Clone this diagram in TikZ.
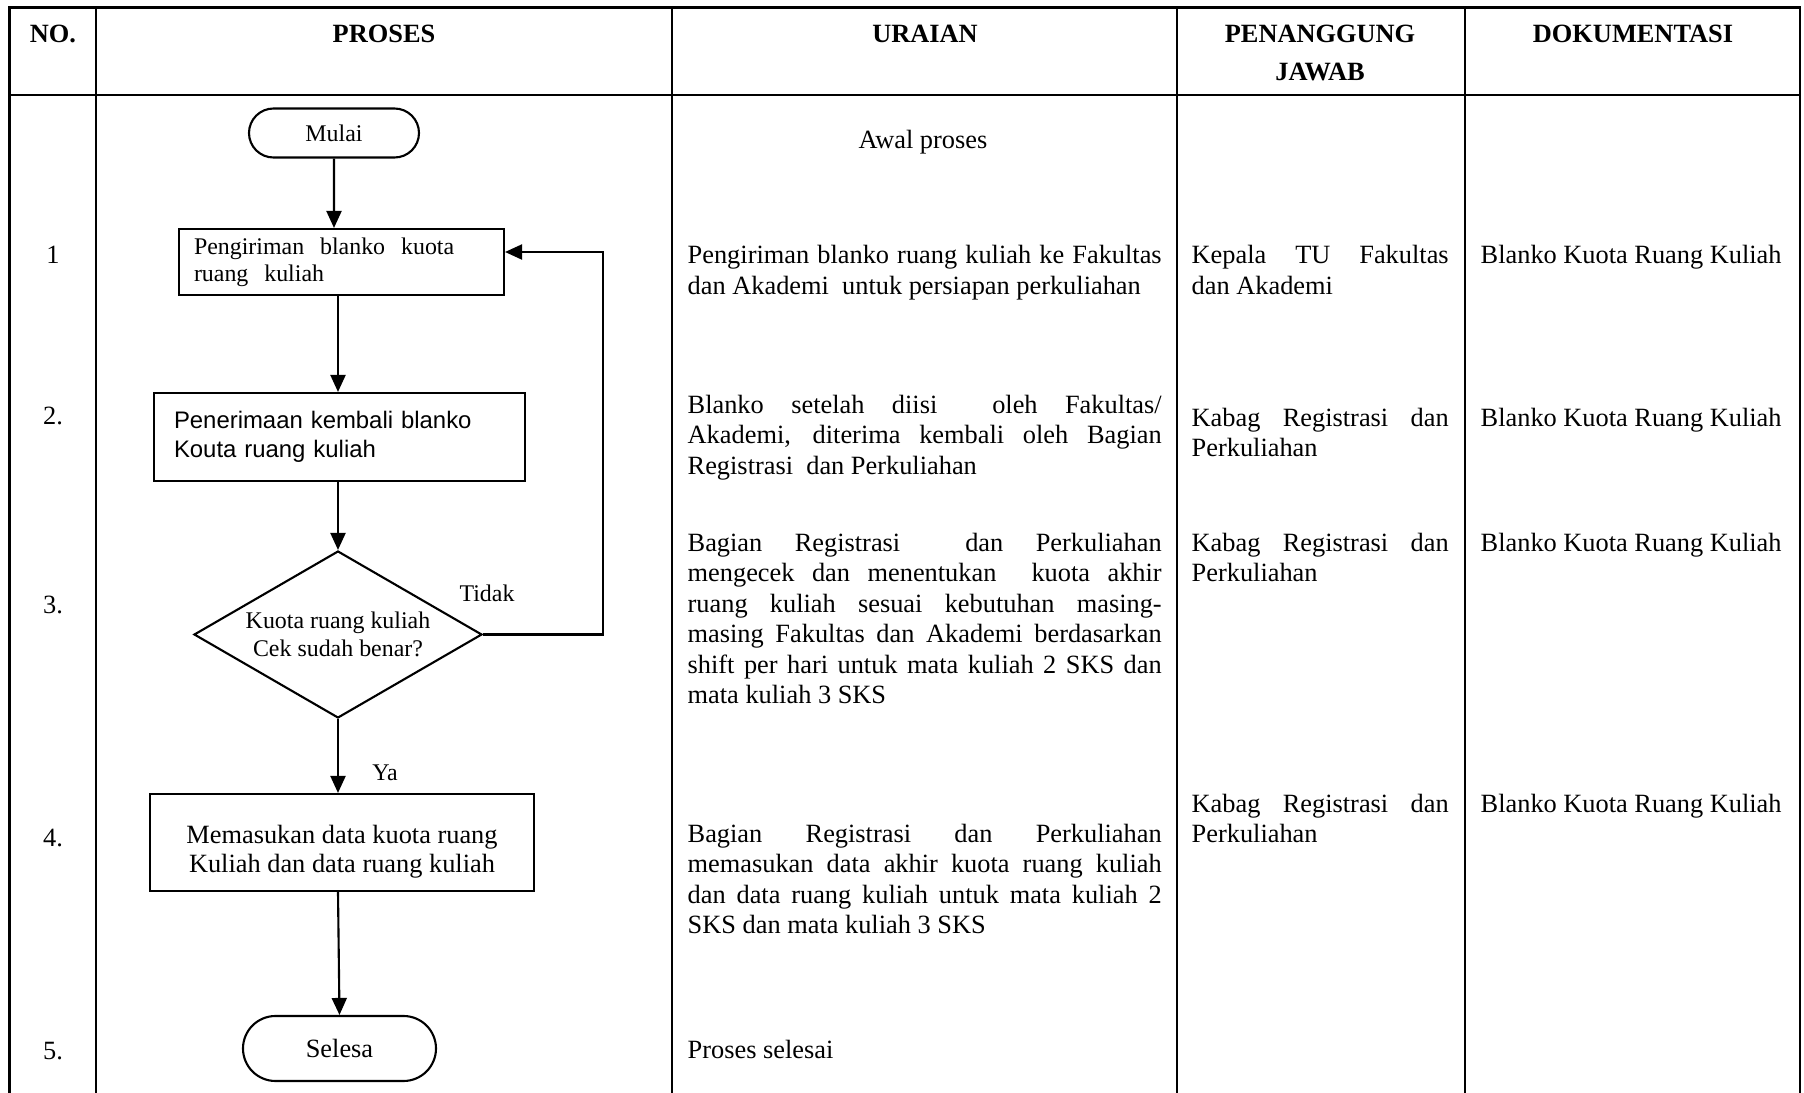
\documentclass[tikz,border=0pt]{standalone}
\usepackage{fontspec}
\setmainfont{Liberation Serif}
\newfontfamily\arialfont{Liberation Sans}
\usepackage{tikz}
\usetikzlibrary{shapes.geometric, shapes.misc, arrows.meta}
\hyphenpenalty=10000
\exhyphenpenalty=10000
\newcommand{\txtfont}{\fontsize{7.5}{8.7}\selectfont}
\newcommand{\flowfont}{\fontsize{6.8}{7.7}\selectfont}
\tikzset{
  tbl/.style={line width=0.65pt, draw=black},
  blk/.style={rectangle, draw=black, line width=0.6pt, inner sep=0pt},
  proc/.style={blk, align=left, font=\flowfont},
  term/.style={rounded rectangle, draw=black, line width=0.6pt, inner sep=0pt, font=\flowfont},
  dec/.style={diamond, aspect=1.72, draw=black, line width=0.6pt, inner sep=0pt, align=center, font=\fontsize{6.8}{8}\selectfont},
  hdr/.style={font=\txtfont\bfseries, inner sep=0pt, anchor=base},
  num/.style={font=\txtfont, inner sep=0pt, anchor=base},
  cell/.style={font=\txtfont, inner sep=0pt, anchor=base west, align=justify},
  lab/.style={font=\flowfont, inner sep=0pt},
  arr/.style={-{Triangle[length=1.7mm, width=1.5mm]}, line width=0.6pt, draw=black},
}

\begin{document}
\begin{tikzpicture}[x=0.1mm, y=-0.1mm]
  \useasboundingbox (0,0) rectangle (1804,1093);
  \draw[tbl] (9.5,1093) |- (1800,7.5) -- (1800,1093);
  \draw[tbl] (9.5,95) -- (1800,95);
  \foreach \cx in {96,672,1177,1465}
    \draw[tbl] (\cx,7.5) -- (\cx,1093);
  \node[hdr] (hno) at (53,42) {NO.};
  \node[hdr] (hproses) at (384,42) {PROSES};
  \node[hdr] (huraian) at (925,42) {URAIAN};
  \node[hdr] (hpj) at (1320,42) {PENANGGUNG};
  \node[hdr] (hjawab) at (1320,81) {JAWAB};
  \node[hdr] (hdok) at (1633,42) {DOKUMENTASI};
  \node[num] (no1) at (53,263) {1};
  \node[num] (no2) at (53,424) {2.};
  \node[num] (no3) at (53,613) {3.};
  \node[num] (no4) at (53,846) {4.};
  \node[num] (no5) at (53,1059) {5.};
  \node[term, minimum width=17mm, minimum height=4.9mm] (mulai) at (334,133) {Mulai};
  \node[proc, text width=29.5mm, minimum width=32.5mm, minimum height=6.6mm] (kirim) at (341.5,262) {Pengiriman~ blanko~ kuota\\ruang~ kuliah};
  \node[proc, font=\arialfont\fontsize{6.8}{8.2}\selectfont, text width=33.1mm, minimum width=37.1mm, minimum height=8.8mm] (terima) at (339.5,437) {Penerimaan kembali blanko\\Kouta ruang kuliah};
  \node[dec, minimum width=28.8mm, minimum height=16.7mm] (cek) at (338,634.5) {Kuota ruang kuliah\\Cek sudah benar?};
  \node[blk, align=center, font=\fontsize{7.5}{8.2}\selectfont, minimum width=38.4mm, minimum height=9.7mm] (masuk) at (342,842.5) {\rule{0pt}{3.7mm}Memasukan data kuota ruang\\Kuliah dan data ruang kuliah};
  \node[term, font=\txtfont, minimum width=19.3mm, minimum height=6.5mm] (selesa) at (339.5,1048.5) {Selesa};
  \coordinate (balik) at (603,252);
  \draw[arr] (mulai) -- (mulai |- kirim.north);
  \draw[arr] (kirim.south -| cek) -- (cek |- terima.north);
  \draw[arr] (terima.south -| cek) -- (cek.north);
  \draw[arr] (cek.south) -- (cek.south |- masuk.north);
  \draw[arr] (masuk.south -| cek) -- (selesa.north);
  \draw[arr] (cek.east) -| (balik) -- (kirim.east |- balik);
  \node[lab] (tidak) at (487,593) {Tidak};
  \node[lab] (ya) at (385,773) {Ya};
  \node[num] (awal) at (923,149) {Awal proses};
  \node[cell, text width=47.4mm] (ur1) at (687,264) {Pengiriman blanko ruang kuliah ke Fakultas\linebreak dan Akademi~ untuk persiapan perkuliahan};
  \node[cell, text width=47.4mm] (ur2) at (687,413) {Blanko setelah diisi~ oleh Fakultas/\linebreak Akademi, diterima kembali oleh Bagian\linebreak Registrasi~ dan Perkuliahan};
  \node[cell, text width=47.4mm] (ur3) at (687,551) {Bagian Registrasi~ dan Perkuliahan\linebreak mengecek dan menentukan~ kuota akhir\linebreak ruang kuliah sesuai kebutuhan masing-\linebreak masing Fakultas dan Akademi berdasarkan\linebreak shift per hari untuk mata kuliah 2 SKS dan\linebreak mata kuliah 3 SKS};
  \node[cell, text width=47.4mm] (ur4) at (687,842) {Bagian Registrasi dan Perkuliahan\linebreak memasukan data akhir kuota ruang kuliah\linebreak dan data ruang kuliah untuk mata kuliah 2\linebreak SKS dan mata kuliah 3 SKS};
  \node[cell, text width=47.4mm] (ur5) at (687,1058) {Proses selesai};
  \node[cell, text width=25.7mm] (pj1) at (1191,264) {Kepala TU Fakultas\linebreak dan Akademi};
  \node[cell, text width=25.7mm] (pj2) at (1191,426) {Kabag Registrasi dan\linebreak Perkuliahan};
  \node[cell, text width=25.7mm] (pj3) at (1191,551) {Kabag Registrasi dan\linebreak Perkuliahan};
  \node[cell, text width=25.7mm] (pj4) at (1191,812) {Kabag Registrasi dan\linebreak Perkuliahan};
  \node[cell] (dok1) at (1480,264) {Blanko Kuota Ruang Kuliah};
  \node[cell] (dok2) at (1480,426) {Blanko Kuota Ruang Kuliah};
  \node[cell] (dok3) at (1480,551) {Blanko Kuota Ruang Kuliah};
  \node[cell] (dok4) at (1480,812) {Blanko Kuota Ruang Kuliah};
\end{tikzpicture}
\end{document}
